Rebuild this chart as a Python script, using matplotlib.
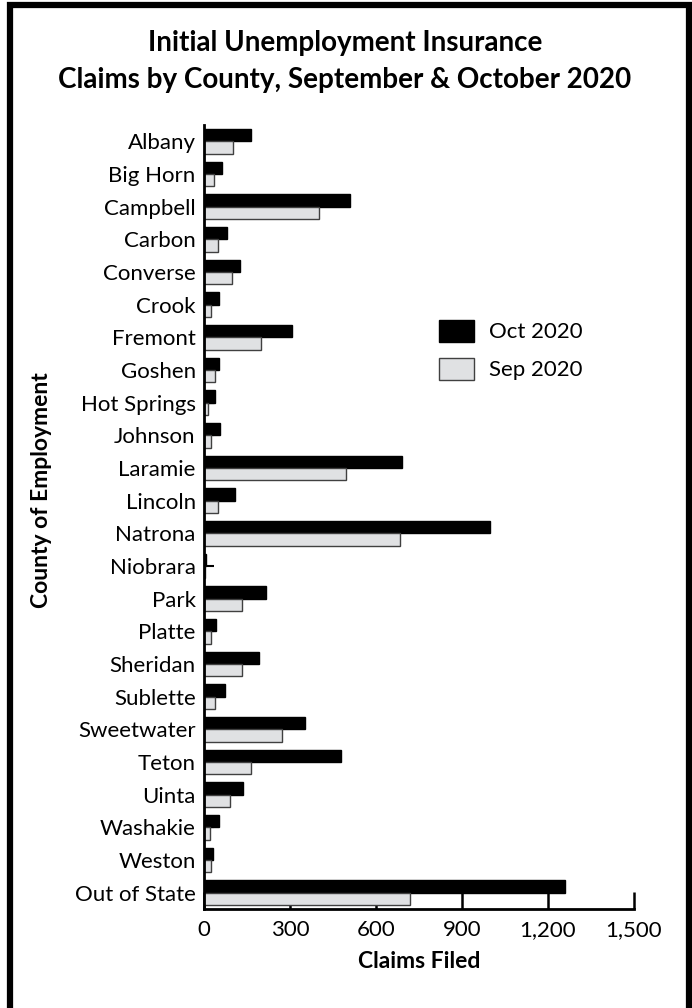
import matplotlib
matplotlib.use('Agg')
import matplotlib.pyplot as plt
import numpy as np
from matplotlib.patches import Rectangle

plt.rcParams['font.family'] = ['Lato', 'DejaVu Sans']

counties = ['Albany', 'Big Horn', 'Campbell', 'Carbon', 'Converse', 'Crook',
            'Fremont', 'Goshen', 'Hot Springs', 'Johnson', 'Laramie', 'Lincoln',
            'Natrona', 'Niobrara', 'Park', 'Platte', 'Sheridan', 'Sublette',
            'Sweetwater', 'Teton', 'Uinta', 'Washakie', 'Weston', 'Out of State']
oct2020 = [164, 64, 508, 79, 126, 53, 306, 53, 38, 57, 690, 108,
           998, 8, 218, 41, 191, 72, 354, 478, 137, 53, 33, 1259]
sep2020 = [102, 35, 401, 49, 99, 25, 199, 40, 14, 25, 495, 48,
           685, 2, 134, 24, 133, 37, 272, 163, 92, 22, 25, 718]
xticks = [0, 300, 600, 900, 1200, 1500]

W, H = 692, 1008
fig = plt.figure(figsize=(W/100., H/100.), dpi=100)

# frame round the whole picture
fig.patches.append(Rectangle((10./W, -0.01), 679./W, 1 - 5./H + 0.01,
                             transform=fig.transFigure, fill=False,
                             edgecolor='black', linewidth=4.5, zorder=10))

ax = fig.add_axes([204./W, 1 - 909./H, 430./W, 784./H])
ax.set_axisbelow(True)

y = np.arange(len(counties))
h = 0.37
ax.barh(y - 0.19, oct2020, height=h, color='black', edgecolor='black',
        linewidth=1.0, label='Oct 2020')
ax.barh(y + 0.19, sep2020, height=h, color='#e0e1e3', edgecolor='#404040',
        linewidth=1.0, label='Sep 2020')

ax.set_ylim(len(counties) - 0.5, -0.5)
ax.set_xlim(0, 1500)
ax.set_yticks(y)
ax.set_yticklabels(counties, fontsize=16)
ax.set_xticks(xticks)
ax.set_xticklabels(['{:,}'.format(v) for v in xticks], fontsize=16)

for s in ['top', 'right']:
    ax.spines[s].set_visible(False)
for s in ['left', 'bottom']:
    ax.spines[s].set_linewidth(2)

ax.tick_params(axis='x', direction='in', length=12, width=1.8, pad=8)
ax.tick_params(axis='y', direction='in', length=7, width=1.5, pad=6)

ax.set_xlabel('Claims Filed', fontsize=16.5, fontweight='bold', labelpad=8)
fig.text(42./W, 1 - 490./H, 'County of Employment', rotation=90,
         fontsize=16.5, fontweight='bold', ha='center', va='center')

fig.text(345./W, 1 - 43./H, 'Initial Unemployment Insurance',
         fontsize=20, fontweight='bold', ha='center', va='center')
fig.text(345./W, 1 - 80./H, 'Claims by County, September & October 2020',
         fontsize=20, fontweight='bold', ha='center', va='center')

leg = ax.legend(loc='center', bbox_to_anchor=(511./W, 1 - 350./H),
                bbox_transform=fig.transFigure, frameon=False, fontsize=16,
                handlelength=1.58, handleheight=1.17, labelspacing=0.7,
                handletextpad=0.68, borderpad=0.2)

fig.savefig('out.png', dpi=100)
